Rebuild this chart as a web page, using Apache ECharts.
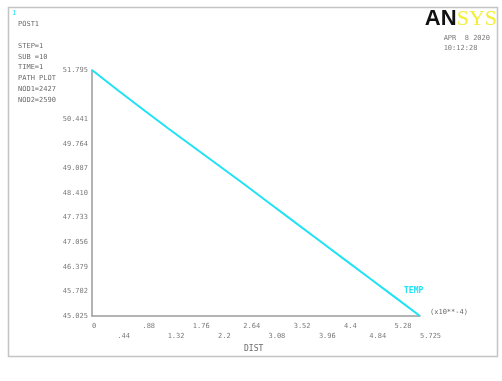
<!DOCTYPE html>
<html>
<head>
<meta charset="utf-8">
<script src="https://cdn.jsdelivr.net/npm/echarts@6/dist/echarts.min.js"></script>
<style>
  html, body { margin: 0; padding: 0; background: #ffffff; }
  #chart { width: 502px; height: 381px; }
</style>
</head>
<body>
<div id="chart"></div>
<script>
// Path plot: temperature along the path distance
const distX = [0, 0.44, 0.88, 1.32, 1.76, 2.2, 2.64, 3.08, 3.52, 3.96, 4.4, 4.84, 5.28, 5.725];
const tempY = [51.795, 51.25, 50.72, 50.20, 49.69, 49.18, 48.67, 48.15, 47.63, 47.11, 46.59, 46.07, 45.55, 45.025];

// Axis tick values and their labels
const xTickValues = [0, 0.44, 0.88, 1.32, 1.76, 2.2, 2.64, 3.08, 3.52, 3.96, 4.4, 4.84, 5.28, 5.725];
const xTickLabels = ['0', '.44', '.88', '1.32', '1.76', '2.2', '2.64', '3.08', '3.52', '3.96', '4.4', '4.84', '5.28', '5.725'];
const yTickValues = [45.025, 45.702, 46.379, 47.056, 47.733, 48.410, 49.087, 49.764, 50.441, 51.118, 51.795];

const infoLines = ['POST1', '', 'STEP=1', 'SUB =10', 'TIME=1', 'PATH PLOT', 'NOD1=2427', 'NOD2=2590'];

const mono = 'DejaVu Sans Mono';
const textGray = '#7a7a7a';

const chart = echarts.init(document.getElementById('chart'), null, { renderer: 'canvas' });

const xLabelMap = {};
xTickValues.forEach((v, i) => { xLabelMap[v] = i; });

chart.setOption({
  backgroundColor: '#ffffff',
  animation: false,
  grid: { left: 92, top: 70, right: 82, bottom: 65 },
  xAxis: {
    type: 'value',
    min: 0,
    max: 5.725,
    axisLine: { show: true, lineStyle: { color: '#9a9a9a', width: 1.5 } },
    axisTick: { show: false },
    splitLine: { show: false },
    axisLabel: {
      customValues: xTickValues,
      showMinLabel: true,
      showMaxLabel: true,
      align: 'left',
      margin: 5,
      color: textGray,
      fontFamily: mono,
      fontSize: 7,
      lineHeight: 10,
      formatter: function (v) {
        const i = xLabelMap[v];
        if (i === undefined) return '';
        return (i % 2 === 1 ? '\n' : '') + xTickLabels[i];
      }
    }
  },
  yAxis: {
    type: 'value',
    min: 45.025,
    max: 51.795,
    axisLine: { show: true, lineStyle: { color: '#9a9a9a', width: 1.5 } },
    axisTick: { show: false },
    splitLine: { show: false },
    axisLabel: {
      customValues: yTickValues,
      showMinLabel: true,
      showMaxLabel: true,
      margin: 4,
      color: textGray,
      fontFamily: mono,
      fontSize: 7,
      formatter: function (v) { return v.toFixed(3); }
    }
  },
  series: [{
    type: 'line',
    name: 'TEMP',
    data: distX.map((x, i) => [x, tempY[i]]),
    showSymbol: false,
    smooth: false,
    lineStyle: { color: '#1fe2f4', width: 2 },
    z: 3
  }],
  graphic: [
    // outer frame
    { type: 'rect', shape: { x: 8.5, y: 7.5, width: 489, height: 349 },
      style: { fill: null, stroke: '#c4c4c4', lineWidth: 1.5 }, z: 0, silent: true },
    // window number
    { type: 'text', left: 12, top: 10,
      style: { text: '1', fill: '#1fe2f4', font: '7px ' + mono }, z: 10 },
    // info block
    { type: 'text', left: 18, top: 19,
      style: { text: infoLines.join('\n'), fill: '#6a6a6a', font: '7px ' + mono,
               lineHeight: 10.8 }, z: 10 },
    // cover for the tick label hidden behind the info block
    { type: 'rect', shape: { x: 55, y: 88, width: 34, height: 13 },
      style: { fill: '#ffffff' }, z: 9 },
    // logo
    { type: 'text', right: 5, top: 8,
      style: { text: '{a|AN}{b|SYS}',
        rich: {
          a: { fill: '#111111', font: '900 22px "Liberation Sans"' },
          b: { fill: '#f2ee3a', font: '22px "Liberation Serif"' }
        } }, z: 10 },
    { type: 'text', right: 12, top: 33,
      style: { text: 'APR  8 2020\n10:12:28', fill: '#7a7a7a', font: '7px ' + mono,
               align: 'right', lineHeight: 10 }, z: 10 },
    // legend
    { type: 'text', left: 404, top: 287,
      style: { text: 'TEMP', fill: '#1fe2f4', font: 'bold 8px ' + mono }, z: 10 },
    // scale multiplier
    { type: 'text', left: 430, top: 309,
      style: { text: '(x10**-4)', fill: '#6a6a6a', font: '7px ' + mono }, z: 10 },
    // axis title
    { type: 'text', left: 244, top: 345,
      style: { text: 'DIST', fill: '#6a6a6a', font: '8px ' + mono }, z: 10 }
  ]
});
</script>
</body>
</html>
